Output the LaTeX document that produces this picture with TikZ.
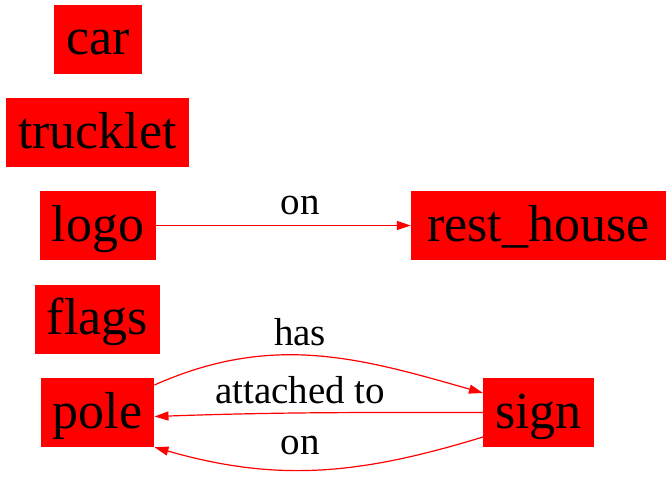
\documentclass[tikz,border=0pt]{standalone}
\usepackage{fontspec}
\setmainfont{Liberation Serif}
\usetikzlibrary{arrows.meta}
\tikzset{
  objbox/.style = {fill = red, text = black, inner xsep = 12pt, inner ysep = 0pt, minimum height = 69pt, text height = 40pt, text depth = 9pt, font = \fontsize{52}{60}\selectfont},
  relarrow/.style = {draw = red, line width = 1.2pt, -{Triangle[length = 14pt, width = 9pt]}},
  rellabel/.style = {anchor = base, inner sep = 0pt, font = \fontsize{39}{46}\selectfont}
}
\begin{document}
\begin{tikzpicture}[x = 1pt, y = 1pt]
\useasboundingbox (0,0) rectangle (671,483);
% objects
\node[objbox] (car) at (98,443.5) {car};
\node[objbox] (trucklet) at (97.5,350.5) {trucklet};
\node[objbox] (logo) at (98,257.5) {logo};
\node[objbox, minimum width = 255pt] (resthouse) at (538.5,257.5) {rest\_house};
\node[objbox] (flags) at (97.5,164) {flags};
\node[objbox] (pole) at (97.5,70.5) {pole};
\node[objbox] (sign) at (538.5,70.5) {sign};
% relations
\draw[relarrow] (logo.east) -- (resthouse.west);
\node[rellabel] (lblon) at (300,269) {on};
\draw[relarrow] ([yshift = 27.5pt]pole.east) to[out = 24, in = 164] ([yshift = 19.5pt]sign.west);
\node[rellabel] (lblhas) at (300,138) {has};
\draw[relarrow] (sign.west) to[out = 180, in = 2] ([yshift = -4pt]pole.east);
\node[rellabel] (lblattached) at (300,80) {attached to};
\draw[relarrow] ([yshift = -24.5pt]sign.west) to[out = 197, in = -16] (pole.south east);
\node[rellabel] (lblon2) at (300,29) {on};
\end{tikzpicture}
\end{document}
